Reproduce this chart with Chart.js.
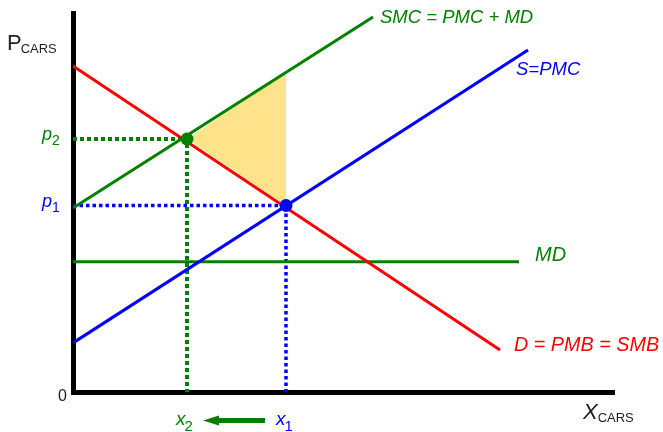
<!DOCTYPE html>
<html>
<head>
<meta charset="utf-8">
<script src="https://cdn.jsdelivr.net/npm/chart.js@4/dist/chart.umd.min.js"></script>
<style>
  html, body { margin: 0; padding: 0; background: #fff; }
  #wrap { width: 663px; height: 432px; }
</style>
</head>
<body>
<div id="wrap"><canvas id="c" width="663" height="432"></canvas></div>
<script>
// ---- data (abstract units: quantity of cars on x, price on y) ----
const demandX = [0, 427];          // D = PMB = SMB
const demandY = [326.5, 42.5];
const supplyX = [0, 455];          // S = PMC
const supplyY = [49.5, 342.5];
const smcX = [0, 300];             // SMC = PMC + MD
const smcY = [184.5, 375.5];
const mdX = [0, 446];              // MD
const mdY = [130.8, 130.8];
const eqX = [114, 213];            // x2, x1
const eqY = [253.5, 187];          // p2, p1
const dwlX = [114, 213, 213, 114]; // deadweight-loss triangle
const dwlY = [253.5, 320, 187, 253.5];
const axisMax = { x: 541, y: 379.5 };

const GREEN = '#008000', RED = '#ff0000', BLUE = '#0000ff', YELLOW = '#ffe38a';

function pts(xs, ys) { return xs.map((x, i) => ({ x: x, y: ys[i] })); }

const datasets = [
  { data: pts([eqX[0]], [eqY[0]]), showLine: false, pointRadius: 6.5, pointBackgroundColor: GREEN, pointBorderWidth: 0, order: 0 },
  { data: pts([eqX[1]], [eqY[1]]), showLine: false, pointRadius: 6.5, pointBackgroundColor: BLUE, pointBorderWidth: 0, order: 0 },
  { data: pts(demandX, demandY), showLine: true, borderColor: RED, borderWidth: 3, pointRadius: 0, order: 2 },
  { data: pts(supplyX, supplyY), showLine: true, borderColor: BLUE, borderWidth: 3.2, pointRadius: 0, order: 2 },
  { data: pts(smcX, smcY), showLine: true, borderColor: GREEN, borderWidth: 3, pointRadius: 0, order: 1 },
  { data: pts(mdX, mdY), showLine: true, borderColor: GREEN, borderWidth: 3, pointRadius: 0, order: 2 },
  { data: pts([0, eqX[0], eqX[0]], [eqY[0], eqY[0], 0]), showLine: true, borderColor: GREEN, borderWidth: 4, borderDash: [4, 3], pointRadius: 0, order: 3 },
  { data: pts([0, eqX[1], eqX[1]], [eqY[1], eqY[1], 0]), showLine: true, borderColor: BLUE, borderWidth: 3.5, borderDash: [3.5, 3], pointRadius: 0, order: 3 },
  { data: pts(dwlX, dwlY), showLine: true, borderWidth: 0, borderColor: 'rgba(0,0,0,0)', backgroundColor: YELLOW, fill: 'shape', pointRadius: 0, order: 5 }
];

function drawSub(ctx, main, sub, x, y, mainFont, subFont, color, subDy, subDx) {
  ctx.fillStyle = color;
  ctx.font = mainFont;
  ctx.fillText(main, x, y);
  const w = ctx.measureText(main).width;
  ctx.font = subFont;
  ctx.fillText(sub, x + w + (subDx || 0), y + subDy);
}

const labelPlugin = {
  id: 'labels',
  afterDraw(chart) {
    const ctx = chart.ctx;
    const xs = chart.scales.x, ys = chart.scales.y;
    const F = '"Liberation Sans", Arial, sans-serif';
    ctx.save();
    ctx.textAlign = 'left';
    ctx.textBaseline = 'alphabetic';
    // axis titles
    drawSub(ctx, 'P', 'CARS', 7, 49.5, '22px ' + F, '13px ' + F, '#222', 3.2, -1);
    drawSub(ctx, 'X', 'CARS', 583, 419.3, 'italic 22px ' + F, '13px ' + F, '#222', 3, 0);
    ctx.fillStyle = '#222';
    ctx.font = '16px ' + F;
    ctx.fillText('0', 58, 401);
    // price labels
    const yp2 = ys.getPixelForValue(eqY[0]);
    const yp1 = ys.getPixelForValue(eqY[1]);
    drawSub(ctx, 'p', '2', 42, yp2 + 1, 'italic 18px ' + F, '14px ' + F, GREEN, 5, 0);
    drawSub(ctx, 'p', '1', 42, yp1 + 1, 'italic 18px ' + F, '14px ' + F, BLUE, 5, 0);
    // quantity labels
    const xq2 = xs.getPixelForValue(eqX[0]);
    const xq1 = xs.getPixelForValue(eqX[1]);
    drawSub(ctx, 'x', '2', xq2 - 11, 425, 'italic 19px ' + F, '15px ' + F, GREEN, 6, -1);
    drawSub(ctx, 'x', '1', xq1 - 10, 425, 'italic 19px ' + F, '15px ' + F, BLUE, 6, -1);
    // arrow from x1 to x2
    ctx.fillStyle = GREEN;
    ctx.fillRect(217, 418, 48, 5);
    ctx.beginPath();
    ctx.moveTo(203, 420.5);
    ctx.lineTo(219, 415.5);
    ctx.lineTo(219, 425.5);
    ctx.closePath();
    ctx.fill();
    // curve labels
    ctx.fillStyle = GREEN;
    ctx.font = 'italic 18.5px ' + F;
    ctx.fillText('SMC = PMC + MD', 380, 23.3);
    ctx.font = 'italic 20px ' + F;
    ctx.fillText('MD', 535, 260.5);
    ctx.fillStyle = BLUE;
    ctx.font = 'italic 18.5px ' + F;
    ctx.fillText('S=PMC', 516, 75);
    ctx.fillStyle = RED;
    ctx.font = 'italic 19.8px ' + F;
    ctx.fillText('D = PMB = SMB', 514, 350.7);
    ctx.restore();
  }
};

new Chart(document.getElementById('c'), {
  type: 'scatter',
  data: { datasets: datasets },
  options: {
    responsive: false,
    animation: false,
    layout: { padding: { left: 73, right: 49, top: 13, bottom: 39.5 } },
    plugins: { legend: { display: false }, tooltip: { enabled: false } },
    elements: { line: { tension: 0, borderCapStyle: 'butt' } },
    scales: {
      x: {
        type: 'linear', min: 0, max: axisMax.x, z: 1,
        grid: { display: false, drawTicks: false },
        ticks: { display: false },
        border: { display: true, color: '#000', width: 5 }
      },
      y: {
        type: 'linear', min: 0, max: axisMax.y, z: 1,
        grid: { display: false, drawTicks: false },
        ticks: { display: false },
        border: { display: true, color: '#000', width: 5 }
      }
    }
  },
  plugins: [labelPlugin]
});
</script>
</body>
</html>
